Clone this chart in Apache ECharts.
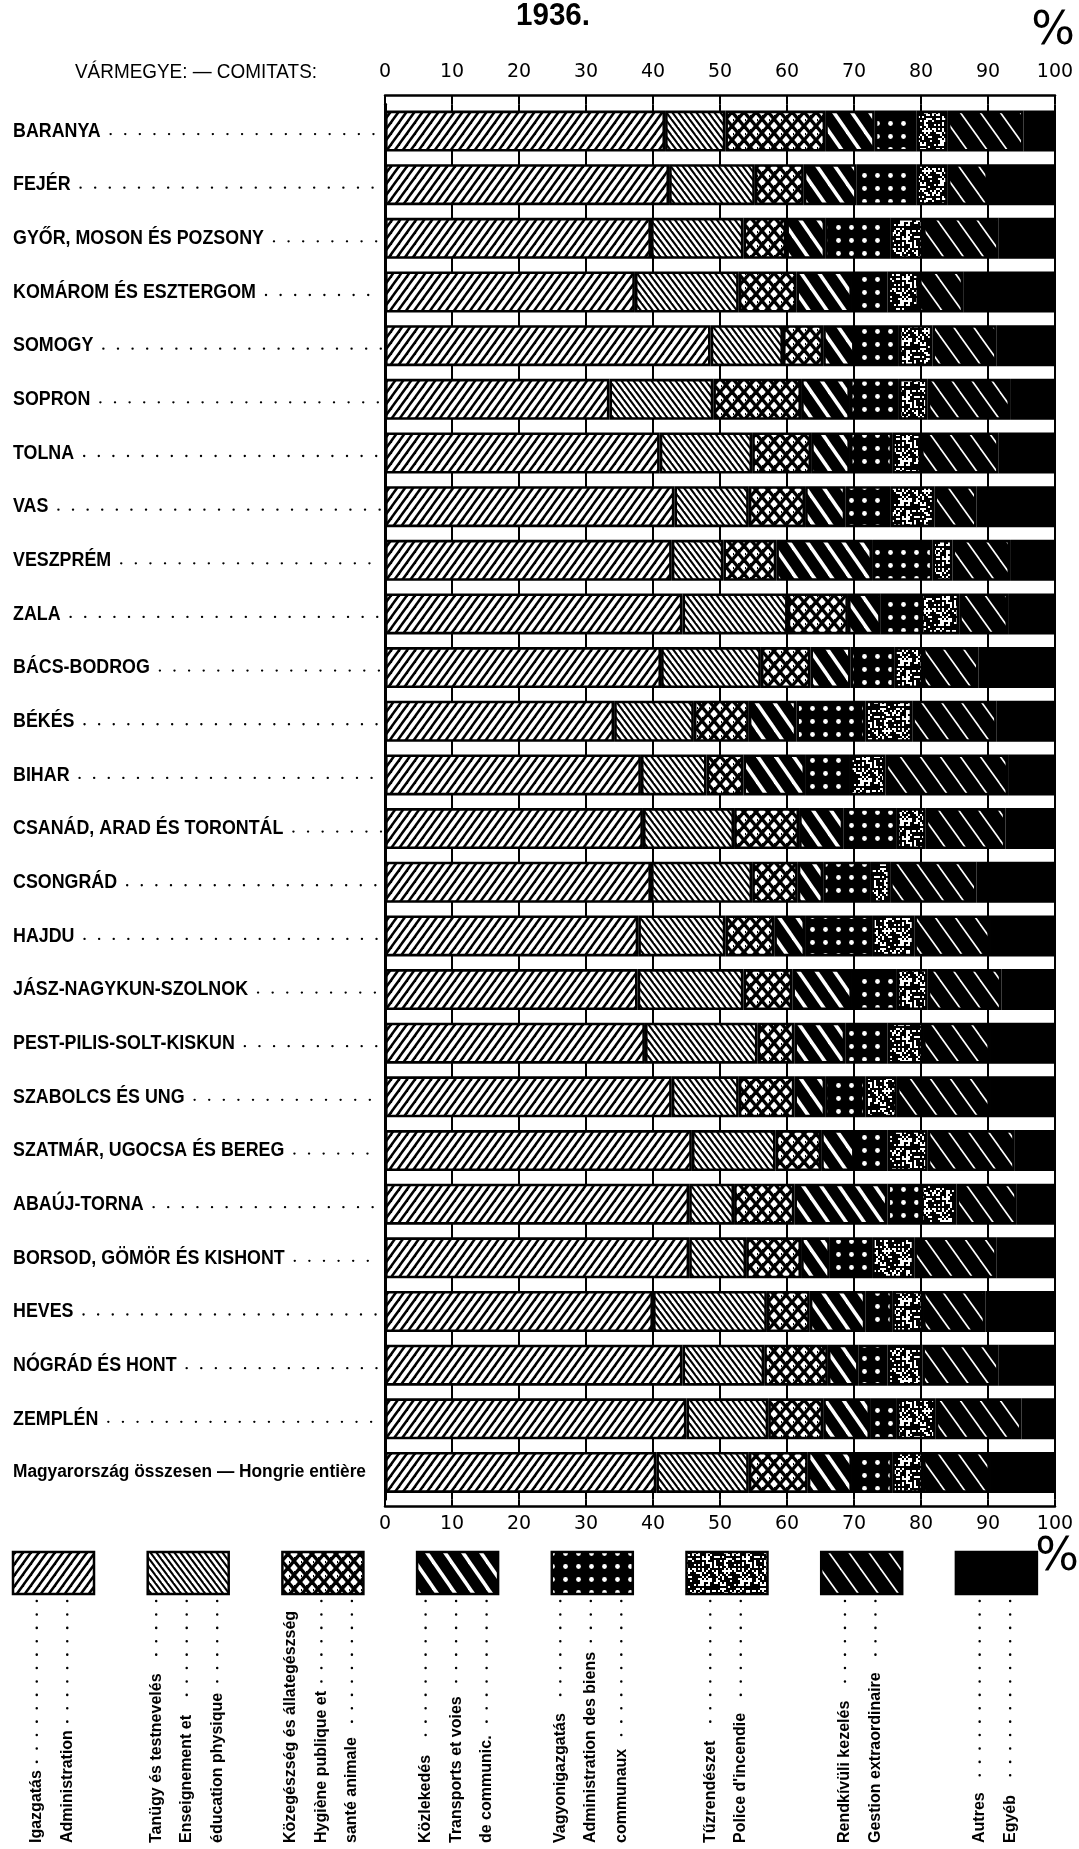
<!DOCTYPE html>
<html>
<head>
<meta charset="utf-8">
<title>1936.</title>
<script src="https://cdn.jsdelivr.net/npm/echarts@6/dist/echarts.min.js"></script>
<style>
  html, body { margin: 0; padding: 0; background: #fff; }
  #chart { width: 1079px; height: 1849px; }
</style>
</head>
<body>
<div id="chart"></div>
<script>
// Vármegyék — comitats (top to bottom)
const counties = [
  'BARANYA', 'FEJÉR', 'GYŐR, MOSON ÉS POZSONY', 'KOMÁROM ÉS ESZTERGOM', 'SOMOGY',
  'SOPRON', 'TOLNA', 'VAS', 'VESZPRÉM', 'ZALA', 'BÁCS-BODROG', 'BÉKÉS', 'BIHAR',
  'CSANÁD, ARAD ÉS TORONTÁL', 'CSONGRÁD', 'HAJDU', 'JÁSZ-NAGYKUN-SZOLNOK',
  'PEST-PILIS-SOLT-KISKUN', 'SZABOLCS ÉS UNG', 'SZATMÁR, UGOCSA ÉS BEREG',
  'ABAÚJ-TORNA', 'BORSOD, GÖMÖR ÉS KISHONT', 'HEVES', 'NÓGRÁD ÉS HONT', 'ZEMPLÉN',
  'Magyarország összesen — Hongrie entière'
];

// share of each item, %
const igazgatas = [41.8, 42.4, 39.7, 37.3, 48.6, 33.5, 41.0, 43.2, 42.8, 44.4, 41.2, 34.2, 38.2,
  38.5, 39.7, 37.8, 37.7, 38.8, 42.8, 45.8, 45.4, 45.4, 40.0, 44.4, 45.0, 40.5];
const tanugy = [9.0, 12.8, 13.8, 15.5, 10.8, 15.5, 13.8, 11.1, 7.7, 15.7, 14.9, 11.9, 9.8,
  13.6, 15.1, 13.0, 15.8, 16.8, 10.0, 12.5, 6.7, 8.5, 17.0, 12.2, 12.2, 13.8];
const kozegeszseg = [14.9, 7.3, 6.4, 8.6, 6.0, 13.1, 8.8, 8.4, 7.9, 9.0, 7.4, 8.2, 5.5,
  9.7, 6.8, 7.3, 7.3, 5.5, 8.3, 6.8, 9.0, 8.2, 6.4, 9.5, 8.2, 8.8];
const kozlekedes = [7.4, 7.9, 5.8, 8.3, 4.7, 7.3, 5.8, 6.0, 14.3, 4.9, 6.0, 7.1, 9.2,
  6.6, 3.8, 4.6, 8.9, 7.6, 4.6, 5.0, 13.9, 4.3, 8.3, 4.6, 7.0, 6.6];
const vagyon = [6.2, 8.9, 9.7, 5.3, 6.6, 7.3, 6.3, 6.7, 9.0, 6.0, 6.5, 10.3, 6.7,
  8.0, 7.0, 10.0, 6.7, 6.3, 6.0, 4.9, 5.0, 6.3, 4.0, 4.3, 4.0, 6.0];
const tuzrendeszet = [4.7, 4.7, 4.9, 4.7, 5.0, 4.3, 4.3, 6.6, 3.0, 5.7, 4.3, 7.0, 5.3,
  4.3, 3.0, 6.3, 4.6, 5.3, 4.7, 6.0, 5.3, 6.3, 4.6, 5.2, 5.8, 4.6];
const rendkivuli = [11.3, 6.0, 11.3, 6.6, 9.6, 12.3, 11.6, 6.3, 8.6, 7.3, 8.3, 12.6, 18.3,
  11.9, 12.9, 11.3, 11.0, 10.0, 13.9, 13.0, 9.0, 12.3, 9.3, 11.4, 12.8, 10.0];
const egyeb = [4.7, 10.0, 8.4, 13.7, 8.7, 6.7, 8.4, 11.7, 6.7, 7.0, 11.4, 8.7, 7.0,
  7.4, 11.7, 9.7, 8.0, 9.7, 9.7, 6.0, 5.7, 8.7, 10.4, 8.4, 5.0, 9.7];

// legend lines (rotated, read bottom to top)
const legendLines = [
  ['Igazgatás', 'Administration'],
  ['Tanügy és testnevelés', 'Enseignement et', 'éducation physique'],
  ['Közegészség és állategészség', 'Hygiène publique et', 'santé animale'],
  ['Közlekedés', 'Transports et voies', 'de communic.'],
  ['Vagyonigazgatás', 'Administration des biens', 'communaux'],
  ['Tűzrendészet', "Police d'incendie"],
  ['Rendkívüli kezelés', 'Gestion extraordinaire'],
  ['Autres', 'Egyéb']
];

const sans = "'Liberation Sans', Arial, sans-serif";
const digits = "'DejaVu Sans', sans-serif";

// --- hatch / texture tiles -----------------------------------------------
function makeTile(w, h, bg) {
  const c = document.createElement('canvas');
  c.width = w; c.height = h;
  const ctx = c.getContext('2d');
  ctx.fillStyle = bg;
  ctx.fillRect(0, 0, w, h);
  return { c, ctx };
}
function drawHatch(ctx, w, h, color, lw, dir) {
  ctx.strokeStyle = color;
  ctx.lineWidth = lw;
  for (let k = -1; k <= 1; k++) {
    ctx.beginPath();
    if (dir === '/') {
      ctx.moveTo(k * w - w / 2, 1.5 * h);
      ctx.lineTo(k * w + 1.5 * w, -0.5 * h);
    } else {
      ctx.moveTo(k * w - w / 2, -0.5 * h);
      ctx.lineTo(k * w + 1.5 * w, 1.5 * h);
    }
    ctx.stroke();
  }
}
function seeded(seed) {
  let s = seed;
  return () => (s = (s * 16807) % 2147483647) / 2147483647;
}
function pattern(c) {
  return { image: c, repeat: 'repeat' };
}

const fills = (() => {
  let t;
  const out = [];
  // Igazgatás: fine "/" hatch
  t = makeTile(8, 11, '#fff');
  drawHatch(t.ctx, 8, 11, '#000', 2.5, '/');
  out.push(pattern(t.c));
  // Tanügy: dense "\" hatch
  t = makeTile(6, 8, '#fff');
  drawHatch(t.ctx, 6, 8, '#000', 2.1, '\\');
  out.push(pattern(t.c));
  // Közegészség: cross lattice
  t = makeTile(12, 14, '#fff');
  drawHatch(t.ctx, 12, 14, '#000', 3.4, '/');
  drawHatch(t.ctx, 12, 14, '#000', 3.4, '\\');
  t.ctx.fillStyle = '#000';
  t.ctx.fillRect(6, 3, 1, 1);
  t.ctx.fillRect(1, 7, 1, 2);
  out.push(pattern(t.c));
  // Közlekedés: wide white "\" stripes on black
  t = makeTile(18, 26, '#000');
  drawHatch(t.ctx, 18, 26, '#fff', 3.6, '\\');
  out.push(pattern(t.c));
  // Vagyonigazgatás: white dots on black
  t = makeTile(13, 13, '#000');
  t.ctx.fillStyle = '#fff';
  t.ctx.beginPath();
  t.ctx.arc(6.5, 6.5, 2.4, 0, Math.PI * 2);
  t.ctx.fill();
  out.push(pattern(t.c));
  // Tűzrendészet: mottled
  t = makeTile(40, 40, '#000');
  const rnd = seeded(7);
  t.ctx.fillStyle = '#fff';
  for (let y = 0; y < 40; y += 2) {
    for (let x = 0; x < 40; x += 2) {
      if (rnd() < 0.36) t.ctx.fillRect(x, y, 2, 2);
    }
  }
  out.push(pattern(t.c));
  // Rendkívüli kezelés: thin white "\" lines on black
  t = makeTile(20, 28, '#000');
  drawHatch(t.ctx, 20, 28, '#fff', 1.6, '\\');
  out.push(pattern(t.c));
  // Egyéb: solid black
  out.push('#000');
  return out;
})();

const seriesData = [igazgatas, tanugy, kozegeszseg, kozlekedes, vagyon, tuzrendeszet, rendkivuli, egyeb];

const series = seriesData.map((d, i) => ({
  name: legendLines[i][0],
  type: 'bar',
  stack: 'total',
  barWidth: 41,
  data: d,
  itemStyle: { color: fills[i], borderColor: '#000', borderWidth: 2.6 },
  emphasis: { disabled: true },
  silent: true
}));

const chart = echarts.init(document.getElementById('chart'), null, { renderer: 'canvas' });
chart.setOption({
  animation: false,
  backgroundColor: '#fff',
  grid: { left: 385, right: 24, top: 104.2, bottom: 349.7, containLabel: false },
  xAxis: [
    {
      type: 'value', position: 'top', min: 0, max: 100, interval: 10, offset: 9,
      axisLine: { show: true, lineStyle: { color: '#000', width: 2.5 } },
      axisTick: { show: true, inside: true, length: 9, lineStyle: { color: '#000', width: 2 } },
      axisLabel: { margin: 14, color: '#000', fontFamily: digits, fontSize: 19 },
      splitLine: { show: true, lineStyle: { color: '#000', width: 2 } }
    },
    {
      type: 'value', position: 'bottom', min: 0, max: 100, interval: 10, offset: 7,
      axisLine: { show: true, lineStyle: { color: '#000', width: 2.5 } },
      axisTick: { show: true, inside: true, length: 7, lineStyle: { color: '#000', width: 2 } },
      axisLabel: { margin: 8, color: '#000', fontFamily: digits, fontSize: 19 },
      splitLine: { show: false }
    }
  ],
  yAxis: {
    type: 'category',
    data: counties,
    inverse: true,
    axisLine: { show: true, lineStyle: { color: '#000', width: 3 } },
    axisTick: { show: false },
    splitLine: { show: false },
    axisLabel: { show: false }
  },
  series: series
});

// --- texts drawn as graphics (condensed look via scaleX) -------------------
const measure = document.createElement('canvas').getContext('2d');
function textWidth(txt, font) {
  measure.font = font;
  return measure.measureText(txt).width;
}

const graphic = [];
const rowFont = 'bold 21px ' + sans;
const rowScale = 0.85;

function fitText(txt, x, y, font, targetW, align) {
  const sx = targetW / textWidth(txt, font);
  return { type: 'text', x: x, y: y, scaleX: sx,
    style: { text: txt, font: font, fill: '#000', align: align, verticalAlign: 'middle' } };
}

graphic.push(fitText('1936.', 553, 16, 'bold 31px ' + sans, 74, 'center'));
graphic.push(fitText('VÁRMEGYE: — COMITATS:', 196, 72, '21px ' + sans, 242, 'center'));
graphic.push({ type: 'text', x: 1053, y: 32, style: { text: '%', font: '46px ' + digits, fill: '#000', align: 'center', verticalAlign: 'middle' } });
graphic.push({ type: 'text', x: 1057, y: 1558, style: { text: '%', font: '46px ' + digits, fill: '#000', align: 'center', verticalAlign: 'middle' } });

// row labels + dotted leaders, placed on the category axis
counties.forEach((name, i) => {
  const y = chart.convertToPixel({ yAxisIndex: 0 }, name);
  if (i === counties.length - 1) {
    graphic.push(fitText(name, 13, y, 'bold 18px ' + sans, 353, 'left'));
    return;
  }
  graphic.push({ type: 'text', x: 13, y: y, scaleX: rowScale,
    style: { text: name, font: rowFont, fill: '#000', align: 'left', verticalAlign: 'middle' } });
  const x1 = 13 + textWidth(name, rowFont) * rowScale + 10;
  graphic.push({
    type: 'line',
    shape: { x1: x1, y1: y + 3, x2: 381, y2: y + 3 },
    style: { stroke: '#000', lineWidth: 2.3, lineDash: [0.1, 14.5], lineCap: 'round' }
  });
});

// legend: boxes, rotated text, dotted leaders
const legendFont = 'bold 16px ' + sans;
legendLines.forEach((lines, i) => {
  const x0 = 13 + 134.7 * i;
  graphic.push({
    type: 'rect',
    shape: { x: x0, y: 1552, width: 81, height: 42 },
    style: { fill: fills[i], stroke: '#000', lineWidth: 2.5 }
  });
  const cx = x0 + 39;
  lines.forEach((txt, k) => {
    const x = cx + (k - (lines.length - 1) / 2) * 30.5;
    const w = textWidth(txt, legendFont);
    graphic.push({
      type: 'text', x: x, y: 1843, rotation: Math.PI / 2,
      style: { text: txt, font: legendFont, fill: '#000', align: 'left', verticalAlign: 'middle' }
    });
    const yEnd = 1843 - w - 8;
    if (yEnd > 1606) {
      graphic.push({
        type: 'line',
        shape: { x1: x, y1: 1601, x2: x, y2: yEnd },
        style: { stroke: '#000', lineWidth: 2.5, lineDash: [0.1, 13.3], lineCap: 'round' }
      });
    }
  });
});

chart.setOption({ graphic: graphic });
</script>
</body>
</html>
